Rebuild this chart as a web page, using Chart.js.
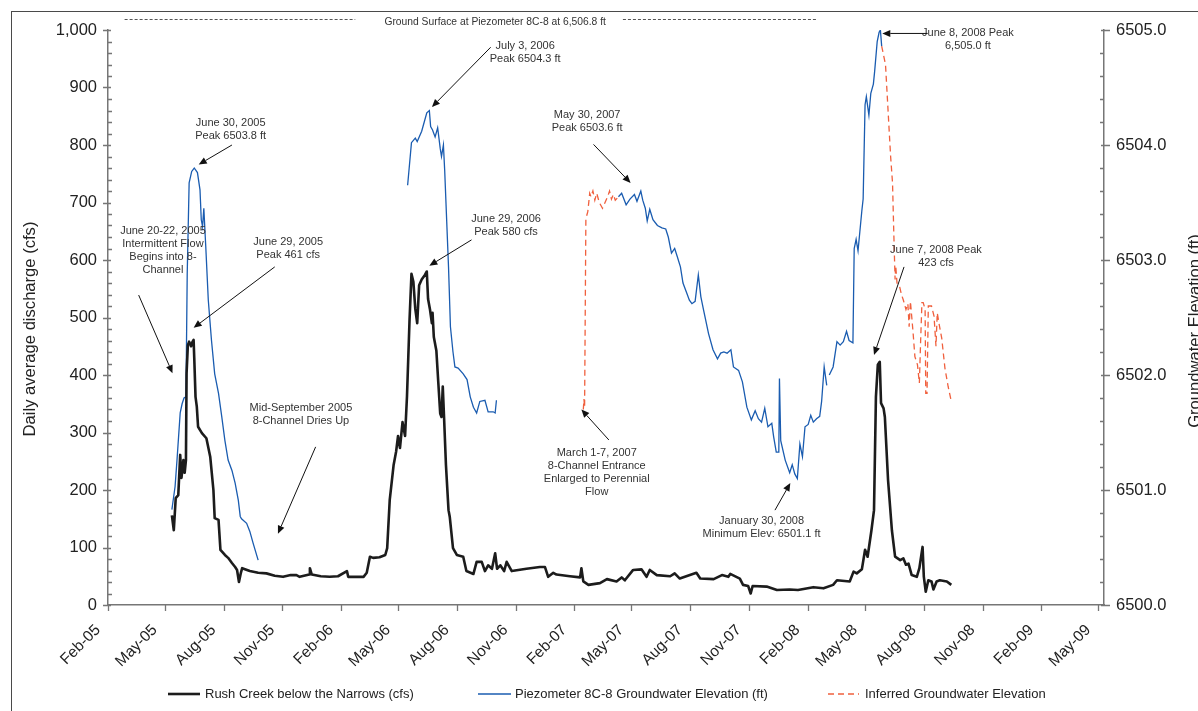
<!DOCTYPE html>
<html>
<head>
<meta charset="utf-8">
<script src="https://cdn.jsdelivr.net/npm/chart.js@4.4.1/dist/chart.umd.min.js"></script>
<style>
  html, body { margin: 0; padding: 0; background: #fff; }
  #wrap { position: relative; width: 1198px; height: 711px; }
</style>
</head>
<body>
<div id="wrap"><canvas id="chart"></canvas></div>
<script>
// ---- Rush Creek below the Narrows, daily average discharge (cfs)
const creekDates = [
  '2005-05-26','2005-05-29','2005-06-01','2005-06-05','2005-06-08','2005-06-10','2005-06-13','2005-06-15','2005-06-17','2005-06-18',
  '2005-06-20','2005-06-22','2005-06-25','2005-06-27','2005-06-29','2005-06-30','2005-07-02','2005-07-04','2005-07-06','2005-07-12',
  '2005-07-19','2005-07-25','2005-07-30','2005-08-01','2005-08-07','2005-08-10','2005-08-17','2005-08-22','2005-08-28','2005-09-02',
  '2005-09-05','2005-09-08','2005-09-11','2005-09-13','2005-09-25','2005-10-08','2005-10-21','2005-11-03','2005-11-16','2005-11-28',
  '2005-12-07','2005-12-12','2005-12-27','2005-12-28','2005-12-31','2006-01-14','2006-01-28','2006-02-10','2006-02-24','2006-02-26',
  '2006-03-10','2006-03-22','2006-03-27','2006-04-01','2006-04-06','2006-04-16','2006-04-25','2006-04-28','2006-05-02','2006-05-08',
  '2006-05-12','2006-05-15','2006-05-18','2006-05-22','2006-05-26','2006-05-29','2006-06-02','2006-06-05','2006-06-08','2006-06-11',
  '2006-06-14','2006-06-17','2006-06-21','2006-06-26','2006-06-29','2006-07-01','2006-07-04','2006-07-07','2006-07-08','2006-07-10',
  '2006-07-14','2006-07-17','2006-07-20','2006-07-22','2006-07-24','2006-07-26','2006-07-29','2006-08-02','2006-08-04','2006-08-09',
  '2006-08-15','2006-08-25','2006-08-30','2006-09-10','2006-09-15','2006-09-23','2006-09-28','2006-10-03','2006-10-09','2006-10-14',
  '2006-10-17','2006-10-22','2006-10-28','2006-11-01','2006-11-09','2006-12-02','2006-12-23','2006-12-31','2007-01-05','2007-01-13',
  '2007-01-18','2007-02-08','2007-02-24','2007-02-26','2007-03-01','2007-03-09','2007-03-27','2007-04-07','2007-04-22','2007-04-30',
  '2007-05-05','2007-05-18','2007-05-31','2007-06-08','2007-06-13','2007-06-24','2007-07-15','2007-07-22','2007-07-30','2007-08-25',
  '2007-08-31','2007-09-21','2007-10-04','2007-10-14','2007-10-17','2007-11-01','2007-11-06','2007-11-14','2007-11-18','2007-11-21',
  '2007-12-13','2007-12-29','2008-01-18','2008-01-31','2008-02-24','2008-03-11','2008-03-26','2008-04-01','2008-04-21','2008-04-27',
  '2008-05-02','2008-05-10','2008-05-15','2008-05-19','2008-05-25','2008-05-29','2008-06-01','2008-06-04','2008-06-07','2008-06-09',
  '2008-06-13','2008-06-15','2008-06-20','2008-06-26','2008-07-01','2008-07-09','2008-07-14','2008-07-18','2008-07-22','2008-07-27',
  '2008-08-04','2008-08-08','2008-08-13','2008-08-15','2008-08-18','2008-08-22','2008-08-27','2008-08-30','2008-09-04','2008-09-09',
  '2008-09-20','2008-09-27'
];
const creekCfs = [
  156,130,186,191,261,221,252,230,252,403,
  452,458,450,457,461,430,362,345,310,299,
  290,258,200,151,148,96,87,82,73,66,
  61,40,56,64,59,56,55,51,49,52,
  52,49,53,64,53,50,49,50,59,49,
  49,49,56,84,82,83,87,99,183,243,
  267,294,273,318,294,363,496,576,562,515,
  490,556,566,574,580,532,514,490,508,466,
  442,387,333,327,380,327,243,165,153,99,
  87,84,59,54,75,75,59,69,63,90,
  63,69,59,75,59,63,66,66,49,56,
  53,50,48,64,41,35,38,45,41,48,
  43,61,62,49,61,52,50,55,46,56,
  46,45,52,49,54,46,35,33,20,33,
  32,26,27,26,31,29,35,43,41,58,
  55,62,96,84,130,165,362,418,423,351,
  342,327,217,130,84,78,81,70,72,52,
  49,64,101,49,23,43,41,27,41,43,
  41,35
];

// ---- Piezometer 8C-8 groundwater elevation (ft); null marks a break in the record
const piezoDates = [
  '2005-05-26','2005-05-31','2005-06-03','2005-06-08','2005-06-11','2005-06-14','2005-06-17','2005-06-19','2005-06-22','2005-06-26',
  '2005-06-30','2005-07-05','2005-07-09','2005-07-11','2005-07-13','2005-07-15','2005-07-18','2005-07-22','2005-07-27','2005-08-01',
  '2005-08-07','2005-08-12','2005-08-17','2005-08-22','2005-08-28','2005-09-02','2005-09-07','2005-09-10','2005-09-12','2005-09-20',
  '2005-09-25','2005-09-30','2005-10-08','2006-01-01',
  '2006-05-30','2006-06-05','2006-06-11','2006-06-14','2006-06-21','2006-06-25','2006-06-29','2006-07-03','2006-07-05','2006-07-08',
  '2006-07-12','2006-07-16','2006-07-20','2006-07-22','2006-07-25','2006-07-27','2006-08-02','2006-08-05','2006-08-09','2006-08-12',
  '2006-08-17','2006-08-25','2006-08-31','2006-09-05','2006-09-10','2006-09-15','2006-09-20','2006-09-28','2006-10-03','2006-10-11',
  '2006-10-14','2006-10-16','2007-01-01',
  '2007-04-25','2007-04-30','2007-05-07','2007-05-13','2007-05-20','2007-05-24','2007-05-30','2007-06-02','2007-06-06','2007-06-09',
  '2007-06-13','2007-06-18','2007-06-25','2007-07-02','2007-07-08','2007-07-12','2007-07-17','2007-07-22','2007-07-26','2007-07-31',
  '2007-08-04','2007-08-10','2007-08-14','2007-08-18','2007-08-23','2007-08-28','2007-09-01','2007-09-05','2007-09-13','2007-09-20',
  '2007-09-27','2007-10-02','2007-10-07','2007-10-12','2007-10-18','2007-10-22','2007-10-30','2007-11-05','2007-11-12','2007-11-19',
  '2007-11-25','2007-11-30','2007-12-05','2007-12-10','2007-12-15','2007-12-21','2007-12-24','2007-12-28','2008-01-01','2008-01-02',
  '2008-01-04','2008-01-11','2008-01-18','2008-01-22','2008-01-26','2008-01-30','2008-02-03','2008-02-07','2008-02-11','2008-02-16',
  '2008-02-20','2008-02-24','2008-02-29','2008-03-05','2008-03-08','2008-03-12','2008-03-16','2008-03-18','2008-03-20','2008-03-26',
  '2008-04-01','2008-04-06','2008-04-11','2008-04-16','2008-04-20','2008-04-26','2008-04-28','2008-05-01','2008-05-04','2008-05-10',
  '2008-05-12','2008-05-15','2008-05-17','2008-05-21','2008-05-24','2008-05-28','2008-05-30','2008-06-03','2008-06-06','2008-06-08',
  '2008-06-10'
];
const piezoFt = [
  6500.83,6501.03,6501.26,6501.67,6501.75,6501.80,6501.81,6502.88,6503.67,6503.77,
  6503.80,6503.76,6503.61,6503.35,6503.29,6503.45,6503.12,6502.65,6502.30,6502.01,
  6501.84,6501.64,6501.43,6501.26,6501.17,6501.06,6500.91,6500.77,6500.75,6500.71,
  6500.64,6500.54,6500.39,null,
  6503.65,6504.02,6504.06,6504.03,6504.12,6504.20,6504.28,6504.30,6504.16,6504.13,
  6504.07,6504.15,6503.97,6503.90,6504.00,6503.78,6502.94,6502.42,6502.20,6502.07,
  6502.06,6502.01,6501.96,6501.81,6501.72,6501.67,6501.77,6501.78,6501.68,6501.68,
  6501.67,6501.78,null,
  6503.55,6503.58,6503.48,6503.53,6503.57,6503.51,6503.60,6503.52,6503.45,6503.34,
  6503.44,6503.35,6503.30,6503.28,6503.27,6503.20,6503.06,6503.10,6503.03,6502.94,
  6502.80,6502.71,6502.65,6502.62,6502.64,6502.87,6502.68,6502.57,6502.36,6502.22,
  6502.14,6502.19,6502.20,6502.19,6502.22,6502.07,6502.04,6501.94,6501.72,6501.61,
  6501.69,6501.62,6501.59,6501.71,6501.55,6501.58,6501.46,6501.33,6501.33,6501.97,
  6501.43,6501.26,6501.15,6501.22,6501.14,6501.10,6501.40,6501.29,6501.55,6501.57,
  6501.65,6501.59,6501.62,6501.64,6501.77,6502.07,6501.91,null,6502.00,6502.07,
  6502.29,6502.26,6502.29,6502.38,6502.30,6502.28,6503.10,6503.18,6503.08,6503.43,
  6503.53,6504.35,6504.42,6504.26,6504.45,6504.53,6504.64,6504.90,6504.98,6505.00,
  6504.86
];

// ---- Inferred groundwater elevation (ft)
const inferredDates = [
  '2007-03-01','2007-03-02','2007-03-03','2007-03-05','2007-03-08','2007-03-11','2007-03-13','2007-03-16','2007-03-19','2007-03-22',
  '2007-03-26','2007-03-31','2007-04-04','2007-04-08','2007-04-11','2007-04-14','2007-04-17','2007-04-20','2007-04-25','2007-06-01',
  '2008-06-10','2008-06-13','2008-06-16','2008-06-20','2008-06-24','2008-06-27','2008-06-29','2008-07-01','2008-07-02','2008-07-04',
  '2008-07-08','2008-07-11','2008-07-14','2008-07-18','2008-07-21','2008-07-23','2008-07-25','2008-07-29','2008-08-01','2008-08-05',
  '2008-08-08','2008-08-10','2008-08-12','2008-08-14','2008-08-17','2008-08-18','2008-08-20','2008-08-22','2008-08-27','2008-08-31',
  '2008-09-03','2008-09-05','2008-09-08','2008-09-12','2008-09-17','2008-09-22','2008-09-27'
];
const inferredFt = [
  6501.70,6501.79,6501.72,6503.36,6503.42,6503.58,6503.55,6503.60,6503.52,6503.58,
  6503.50,6503.45,6503.50,6503.55,6503.60,6503.53,6503.57,6503.52,6503.55,null,
  6504.86,6504.78,6504.70,6504.30,6503.90,6503.67,6503.23,6502.83,6502.95,6502.80,
  6502.77,6502.70,6502.65,6502.57,6502.62,6502.42,6502.64,6502.38,6502.16,6502.09,
  6501.93,6502.30,6502.63,6502.63,6502.57,6501.84,6501.84,6502.60,6502.60,6502.51,
  6502.25,6502.54,6502.44,6502.32,6502.06,6501.90,6501.77
];

// ---- Axis ticks
const tickDates = [
  '2005-02-15','2005-05-15','2005-08-15','2005-11-15','2006-02-15','2006-05-15','2006-08-15','2006-11-15','2007-02-15',
  '2007-05-15','2007-08-15','2007-11-15','2008-02-15','2008-05-15','2008-08-15','2008-11-15','2009-02-15','2009-05-15'
];
const monthNames = ['Jan','Feb','Mar','Apr','May','Jun','Jul','Aug','Sep','Oct','Nov','Dec'];
const seriesNames = ['Rush Creek below the Narrows (cfs)', 'Piezometer 8C-8 Groundwater Elevation (ft)', 'Inferred Groundwater Elevation'];

// ---- Callout notes: text centre and arrow tail in (date, cfs); arrow tip on the named axis
const notes = [
  { lines: ['June 30, 2005', 'Peak 6503.8 ft'], at: ['2005-08-26', 838], from: ['2005-08-28', 800], to: ['2005-07-07', 6503.83, 'y2'] },
  { lines: ['June 20-22, 2005', 'Intermittent Flow', 'Begins into 8-', 'Channel'], at: ['2005-05-12', 650], from: ['2005-04-04', 539], to: ['2005-05-27', 403, 'y'] },
  { lines: ['June 29, 2005', 'Peak 461 cfs'], at: ['2005-11-24', 631], from: ['2005-11-03', 588], to: ['2005-06-29', 482, 'y'] },
  { lines: ['Mid-September 2005', '8-Channel Dries Up'], at: ['2005-12-14', 343], from: ['2006-01-06', 275], to: ['2005-11-08', 124, 'y'] },
  { lines: ['July 3, 2006', 'Peak 6504.3 ft'], at: ['2006-11-30', 973], from: ['2006-10-07', 970], to: ['2006-07-07', 6504.33, 'y2'] },
  { lines: ['June 29, 2006', 'Peak 580 cfs'], at: ['2006-10-31', 672], from: ['2006-09-07', 635], to: ['2006-07-03', 590, 'y'] },
  { lines: ['May 30, 2007', 'Peak 6503.6 ft'], at: ['2007-03-07', 852], from: ['2007-03-17', 801], to: ['2007-05-14', 6503.67, 'y2'] },
  { lines: ['March 1-7, 2007', '8-Channel Entrance', 'Enlarged to Perennial', 'Flow'], at: ['2007-03-22', 264], from: ['2007-04-10', 287], to: ['2007-02-26', 340, 'y'] },
  { lines: ['January 30, 2008', 'Minimum Elev: 6501.1 ft'], at: ['2007-12-05', 146], from: ['2007-12-26', 165], to: ['2008-01-19', 212, 'y'] },
  { lines: ['June 8, 2008 Peak', '6,505.0 ft'], at: ['2008-10-23', 994], from: ['2008-08-21', 994], to: ['2008-06-11', 994, 'y'] },
  { lines: ['June 7, 2008 Peak', '423 cfs'], at: ['2008-09-03', 617], from: ['2008-07-15', 588], to: ['2008-05-29', 435, 'y'] }
];
const groundNote = { text: 'Ground Surface at Piezometer 8C-8 at 6,506.8 ft', at: ['2006-10-14', 1014],
  spans: [['2005-03-13', '2006-03-09'], ['2007-05-02', '2008-02-29']], level: 1019 };

// ---- helpers
const dayOf = s => Date.UTC(+s.slice(0, 4), +s.slice(5, 7) - 1, +s.slice(8, 10)) / 864e5;
const toPoints = (dates, vals) => dates.map((d, i) => ({ x: dayOf(d), y: vals[i] }));
const monthLabel = v => {
  const dt = new Date(v * 864e5);
  return monthNames[dt.getUTCMonth()] + '-' + String(dt.getUTCFullYear()).slice(2);
};

const FONT = "'Liberation Sans', Arial, sans-serif";
Chart.defaults.font.family = FONT;

const COLORS = { creek: '#1c1c1c', piezo: '#1a5cb0', inferred: '#f0603e', axis: '#767676', text: '#222', note: '#333' };

// Frame, axis titles, minor ticks, legend and callouts
const decorations = {
  id: 'decorations',
  beforeDraw(chart) {
    const ctx = chart.ctx;
    ctx.save();
    ctx.fillStyle = '#fff';
    ctx.fillRect(0, 0, chart.width, chart.height);
    ctx.strokeStyle = '#4a4a4a';
    ctx.lineWidth = 1;
    ctx.strokeRect(11.5, 11.5, chart.width + 20, chart.height + 20);
    ctx.restore();
  },
  afterDraw(chart) {
    const ctx = chart.ctx;
    const { left, right, top, bottom } = chart.chartArea;
    const sx = chart.scales.x, sy = chart.scales.y, sy2 = chart.scales.y2;
    ctx.save();

    // tick marks
    ctx.strokeStyle = COLORS.axis;
    ctx.lineWidth = 1.3;
    ctx.beginPath();
    for (let v = 0; v <= 1000; v += 20) {
      const y = Math.round(sy.getPixelForValue(v)) + 0.5;
      if (v % 100 === 0) { ctx.moveTo(left - 5, y); ctx.lineTo(left + 3, y); }
      else { ctx.moveTo(left, y); ctx.lineTo(left + 4, y); }
    }
    for (let k = 0; k <= 25; k++) {
      const y = Math.round(sy2.getPixelForValue(6500 + k * 0.2)) + 0.5;
      if (k % 5 === 0) { ctx.moveTo(right - 3, y); ctx.lineTo(right + 6, y); }
      else { ctx.moveTo(right - 4, y); ctx.lineTo(right, y); }
    }
    tickDates.forEach(d => {
      const x = Math.round(sx.getPixelForValue(dayOf(d))) + 0.5;
      ctx.moveTo(x, bottom); ctx.lineTo(x, bottom + 6);
    });
    ctx.stroke();

    // axis titles
    ctx.fillStyle = COLORS.text;
    ctx.font = '16.6px ' + FONT;
    ctx.textAlign = 'center';
    ctx.textBaseline = 'alphabetic';
    ctx.save();
    ctx.translate(35, 329);
    ctx.rotate(-Math.PI / 2);
    ctx.fillText('Daily average discharge (cfs)', 0, 0);
    ctx.restore();
    ctx.save();
    ctx.translate(1200, 331);
    ctx.rotate(-Math.PI / 2);
    ctx.fillText('Groundwater Elevation (ft)', 0, 0);
    ctx.restore();

    // legend
    const legendY = 694;
    const legendItems = [[168, 200, 205], [478, 511, 515], [828, 859, 865]];
    ctx.font = '13px ' + FONT;
    ctx.textAlign = 'left';
    ctx.textBaseline = 'middle';
    chart.data.datasets.forEach((ds, i) => {
      const [x0, x1, tx] = legendItems[i];
      ctx.save();
      ctx.strokeStyle = ds.borderColor;
      ctx.lineWidth = ds.borderWidth;
      ctx.setLineDash(ds.borderDash || []);
      ctx.beginPath();
      ctx.moveTo(x0, legendY); ctx.lineTo(x1, legendY);
      ctx.stroke();
      ctx.restore();
      ctx.fillStyle = COLORS.text;
      ctx.fillText(ds.label, tx, legendY);
    });

    // ground surface marker
    const gy = sy.getPixelForValue(groundNote.level);
    ctx.save();
    ctx.strokeStyle = '#555';
    ctx.lineWidth = 1.2;
    ctx.setLineDash([3, 2]);
    ctx.beginPath();
    groundNote.spans.forEach(([a, b]) => {
      ctx.moveTo(sx.getPixelForValue(dayOf(a)), Math.round(gy) + 0.5);
      ctx.lineTo(sx.getPixelForValue(dayOf(b)), Math.round(gy) + 0.5);
    });
    ctx.stroke();
    ctx.restore();
    ctx.fillStyle = COLORS.note;
    ctx.font = '10.3px ' + FONT;
    ctx.textAlign = 'center';
    ctx.fillText(groundNote.text, sx.getPixelForValue(dayOf(groundNote.at[0])), sy.getPixelForValue(groundNote.at[1]));

    // callouts
    ctx.font = '11px ' + FONT;
    notes.forEach(n => {
      const tx = sx.getPixelForValue(dayOf(n.at[0]));
      const ty = sy.getPixelForValue(n.at[1]);
      ctx.fillStyle = COLORS.note;
      n.lines.forEach((line, i) => ctx.fillText(line, tx, ty + i * 13));
      const x0 = sx.getPixelForValue(dayOf(n.from[0]));
      const y0 = sy.getPixelForValue(n.from[1]);
      const x1 = sx.getPixelForValue(dayOf(n.to[0]));
      const y1 = chart.scales[n.to[2]].getPixelForValue(n.to[1]);
      const ang = Math.atan2(y1 - y0, x1 - x0);
      const len = 8, half = 3.5;
      const bx = x1 - len * Math.cos(ang), by = y1 - len * Math.sin(ang);
      ctx.strokeStyle = '#111';
      ctx.lineWidth = 1;
      ctx.beginPath();
      ctx.moveTo(x0, y0); ctx.lineTo(bx, by);
      ctx.stroke();
      ctx.fillStyle = '#111';
      ctx.beginPath();
      ctx.moveTo(x1, y1);
      ctx.lineTo(bx + half * Math.sin(ang), by - half * Math.cos(ang));
      ctx.lineTo(bx - half * Math.sin(ang), by + half * Math.cos(ang));
      ctx.closePath();
      ctx.fill();
    });
    ctx.restore();
  }
};

new Chart(document.getElementById('chart'), {
  type: 'line',
  data: {
    datasets: [
      { label: seriesNames[0], data: toPoints(creekDates, creekCfs), yAxisID: 'y',
        borderColor: COLORS.creek, borderWidth: 2.6, pointRadius: 0, tension: 0, borderJoinStyle: 'round' },
      { label: seriesNames[1], data: toPoints(piezoDates, piezoFt), yAxisID: 'y2',
        borderColor: COLORS.piezo, borderWidth: 1.3, pointRadius: 0, tension: 0 },
      { label: seriesNames[2], data: toPoints(inferredDates, inferredFt), yAxisID: 'y2',
        borderColor: COLORS.inferred, borderWidth: 1.3, borderDash: [6, 4], pointRadius: 0, tension: 0 }
    ]
  },
  options: {
    responsive: true,
    maintainAspectRatio: false,
    devicePixelRatio: 1,
    animation: false,
    spanGaps: false,
    layout: { padding: { top: 30, left: 0, right: 0, bottom: 0 } },
    plugins: { legend: { display: false }, tooltip: { enabled: false } },
    scales: {
      x: {
        type: 'linear',
        min: dayOf('2005-02-15'),
        max: dayOf('2009-05-24'),
        afterBuildTicks: s => { s.ticks = tickDates.map(d => ({ value: dayOf(d) })); },
        afterFit: s => { s.height = 106; },
        grid: { display: false, drawTicks: false },
        border: { display: true, color: COLORS.axis, width: 1.5 },
        ticks: { autoSkip: false, minRotation: 45, maxRotation: 45, padding: 16, labelOffset: -10,
                 color: COLORS.text, font: { size: 15.5 }, callback: v => monthLabel(v) }
      },
      y: {
        position: 'left',
        min: 0, max: 1000,
        afterFit: s => { s.width = 108; },
        grid: { display: false, drawTicks: false },
        border: { display: true, color: COLORS.axis, width: 1.5 },
        ticks: { stepSize: 100, padding: 11, color: COLORS.text, font: { size: 16.5 },
                 callback: v => v.toLocaleString('en-US') }
      },
      y2: {
        position: 'right',
        min: 6500, max: 6505,
        afterFit: s => { s.width = 94; },
        grid: { display: false, drawTicks: false },
        border: { display: true, color: COLORS.axis, width: 1.5 },
        ticks: { stepSize: 1, padding: 12, color: COLORS.text, font: { size: 16.5 },
                 callback: v => v.toFixed(1) }
      }
    }
  },
  plugins: [decorations]
});
</script>
</body>
</html>
